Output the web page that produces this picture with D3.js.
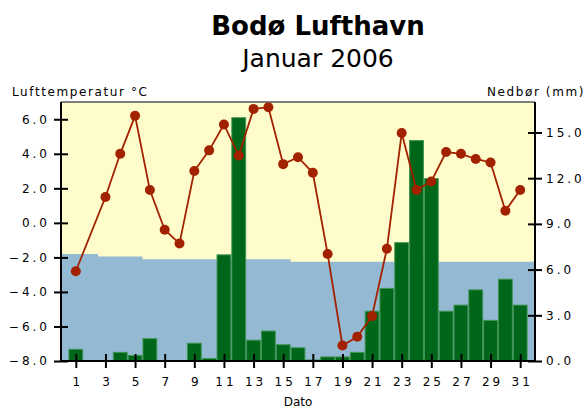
<!DOCTYPE html>
<html lang="no">
<head>
<meta charset="UTF-8">
<title>Bodø Lufthavn</title>
<script src="https://d3js.org/d3.v7.min.js"></script>
<style>
  body { margin: 0; background: #fff; }
  svg text { font-family: "DejaVu Sans", sans-serif; fill: #000; }
  .tick-label { font-size: 12px; letter-spacing: 3px; }
  .axis-title { font-size: 12px; letter-spacing: 1.6px; }
</style>
</head>
<body>
<div id="chart"></div>
<script>
// data
var days = [1,2,3,4,5,6,7,8,9,10,11,12,13,14,15,16,17,18,19,20,21,22,23,24,25,26,27,28,29,30,31];
var temperature = [-2.8, null, 1.5, 4.0, 6.2, 1.9, -0.4, -1.2, 3.0, 4.2, 5.7, 3.9, 6.6, 6.7, 3.4, 3.8,
                   2.9, -1.8, -7.1, -6.6, -5.4, -1.5, 5.2, 1.9, 2.4, 4.1, 4.0, 3.7, 3.5, 0.7, 1.9];
var precipitation = [0.8, 0, 0, 0.6, 0.4, 1.5, 0, 0, 1.2, 0.2, 7.0, 16.0, 1.4, 2.0, 1.1, 0.9,
                     0.1, 0.3, 0.3, 0.6, 3.3, 4.8, 7.8, 14.5, 12.0, 3.3, 3.7, 4.7, 2.7, 5.4, 3.7];
var normalTemp = [-1.8, -1.8, -1.95, -1.95, -1.95, -2.1, -2.1, -2.1, -2.1, -2.1, -2.1, -2.1, -2.1, -2.1, -2.1, -2.25,
                  -2.25, -2.25, -2.25, -2.25, -2.25, -2.25, -2.25, -2.25, -2.25, -2.25, -2.25, -2.25, -2.25, -2.25, -2.25];
var dayTicks = [1,3,5,7,9,11,13,15,17,19,21,23,25,27,29,31];
var tempTicks = [-8,-6,-4,-2,0,2,4,6];
var precTicks = [0,3,6,9,12,15];

var width = 585, height = 408;
var plot = {left: 61, right: 535, top: 102, bottom: 361};

var svg = d3.select('#chart').append('svg')
    .attr('width', width)
    .attr('height', height);

var x = d3.scaleLinear().domain([0, 32]).range([plot.left, plot.right]);
var yT = d3.scaleLinear().domain([-8, 7]).range([plot.bottom, plot.top]);
var yP = d3.scaleLinear().domain([0, 17]).range([plot.bottom, plot.top]);

// plot background
svg.append('rect')
    .attr('x', plot.left).attr('y', plot.top)
    .attr('width', plot.right - plot.left).attr('height', plot.bottom - plot.top)
    .attr('fill', '#fffccc');

// normal temperature as a blue area, stepped per day
var normalPts = [[0, normalTemp[0]]]
    .concat(days.map(function (d, i) { return [d, normalTemp[i]]; }))
    .concat([[32, normalTemp[normalTemp.length - 1]]]);
var area = d3.area()
    .curve(d3.curveStep)
    .x(function (d) { return x(d[0]); })
    .y0(yT(-8))
    .y1(function (d) { return yT(d[1]); });
svg.append('path')
    .datum(normalPts)
    .attr('d', area)
    .attr('fill', '#94bad3');

// precipitation bars
var bw = x(1) - x(0);
svg.append('g').selectAll('rect')
    .data(days.map(function (d, i) { return {day: d, v: precipitation[i]}; })
        .filter(function (d) { return d.v > 0; }))
    .join('rect')
    .attr('x', function (d) { return x(d.day) - bw / 2 + 0.5; })
    .attr('y', function (d) { return yP(d.v) + 0.5; })
    .attr('width', bw - 1)
    .attr('height', function (d) { return yP(0) - yP(d.v) - 0.5; })
    .attr('fill', '#00661a')
    .attr('stroke', '#3f9452')
    .attr('stroke-width', 1);

// temperature line + markers (day 2 missing)
var tempPts = days.map(function (d, i) { return {day: d, t: temperature[i]}; })
    .filter(function (d) { return d.t !== null; });
var line = d3.line()
    .x(function (d) { return x(d.day); })
    .y(function (d) { return yT(d.t); });
svg.append('path')
    .datum(tempPts)
    .attr('d', line)
    .attr('fill', 'none')
    .attr('stroke', '#a22200')
    .attr('stroke-width', 1.8);
svg.append('g').selectAll('circle')
    .data(tempPts)
    .join('circle')
    .attr('cx', function (d) { return x(d.day); })
    .attr('cy', function (d) { return yT(d.t); })
    .attr('r', 5)
    .attr('fill', '#a22200');

// frame: grey top, black sides and bottom
svg.append('line')
    .attr('x1', plot.left).attr('x2', plot.right)
    .attr('y1', plot.top).attr('y2', plot.top)
    .attr('stroke', '#555').attr('stroke-width', 1.5);
svg.append('path')
    .attr('d', 'M' + plot.left + ',' + plot.top + 'V' + plot.bottom + 'H' + plot.right + 'V' + plot.top)
    .attr('fill', 'none')
    .attr('stroke', '#000')
    .attr('stroke-width', 2);

// axes (ticks cross the axis line)
var leftAxis = d3.axisLeft(yT).tickValues(tempTicks).tickSizeInner(7).tickSizeOuter(0).tickPadding(4)
    .tickFormat(d3.format('.1f'));
var gl = svg.append('g').attr('transform', 'translate(' + plot.left + ',0)').call(leftAxis);

var rightAxis = d3.axisRight(yP).tickValues(precTicks).tickSizeInner(7).tickSizeOuter(0).tickPadding(4)
    .tickFormat(d3.format('.1f'));
var gr = svg.append('g').attr('transform', 'translate(' + plot.right + ',0)').call(rightAxis);

var bottomAxis = d3.axisBottom(x).tickValues(dayTicks).tickSizeInner(7).tickSizeOuter(0).tickPadding(9)
    .tickFormat(d3.format('d'));
var gb = svg.append('g').attr('transform', 'translate(0,' + plot.bottom + ')').call(bottomAxis);

[gl, gr, gb].forEach(function (g) {
    g.select('.domain').remove();
    g.selectAll('.tick line').attr('stroke', '#000').attr('stroke-width', 2);
    g.selectAll('.tick text').attr('class', 'tick-label').attr('font-family', null).attr('font-size', null);
    g.attr('font-family', null).attr('font-size', null);
});
gl.selectAll('.tick line').attr('x1', 7);
gr.selectAll('.tick line').attr('x1', -7);
gb.selectAll('.tick line').attr('y1', -7);
gb.selectAll('.tick text').attr('dx', '1.5px');

// titles
svg.append('text')
    .attr('x', 318).attr('y', 35)
    .attr('text-anchor', 'middle')
    .style('font-size', '26px').style('font-weight', 'bold')
    .text('Bodø Lufthavn');
svg.append('text')
    .attr('x', 318).attr('y', 67)
    .attr('text-anchor', 'middle')
    .style('font-size', '25px')
    .text('Januar 2006');

svg.append('text').attr('class', 'axis-title')
    .attr('x', 12).attr('y', 96)
    .text('Lufttemperatur °C');
svg.append('text').attr('class', 'axis-title')
    .attr('x', 585).attr('y', 96)
    .attr('text-anchor', 'end')
    .text('Nedbør (mm)');
svg.append('text')
    .attr('x', x(16)).attr('y', 406)
    .attr('text-anchor', 'middle')
    .style('font-size', '12px')
    .text('Dato');
</script>
</body>
</html>
